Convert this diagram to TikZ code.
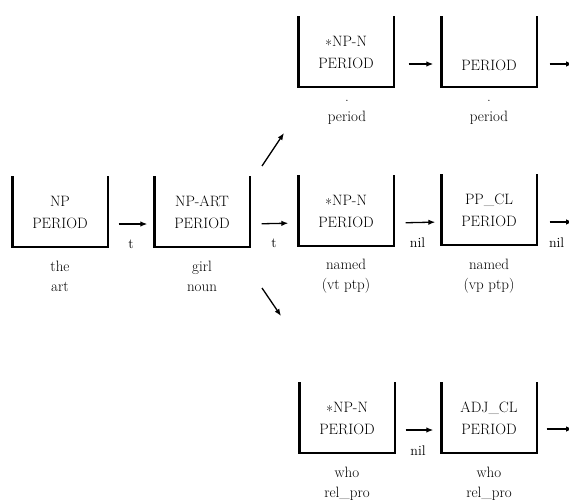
\documentclass[tikz,border=0pt]{standalone}
\usepackage{fontspec}
\usetikzlibrary{arrows.meta}
\begin{document}
\begin{tikzpicture}[x=1pt,y=-1pt,
  cat/.style={minimum width=95pt,minimum height=70pt,inner sep=0pt,align=center,
    font=\fontsize{15}{22}\selectfont\addfontfeature{FakeBold=0.8}},
  ubox/.style={line width=2.4pt,line join=miter,line cap=rect},
  wrd/.style={align=center,inner sep=0pt,
    font=\fontsize{15}{20}\selectfont\addfontfeature{LetterSpace=12,FakeBold=1.5}},
  arr/.style={line width=1.3pt,-{Latex[length=7pt,width=5.5pt]}},
  lab/.style={inner sep=0pt,
    font=\fontsize{14}{16}\selectfont\addfontfeature{LetterSpace=8,FakeBold=1.5}}]
\useasboundingbox (0,0) rectangle (569,503);

% category boxes (open at the top)
\node[cat] (b1) at (60,212)  {NP\\PERIOD};
\node[cat] (b2) at (202,212) {NP-ART\\PERIOD};
\node[cat] (b3) at (346,211) {\textasteriskcentered NP-N\\PERIOD};
\node[cat] (b4) at (489,210) {PP\_CL\\PERIOD};
\node[cat] (b5) at (346,52)  {\textasteriskcentered NP-N\\PERIOD};
\node[cat] (b6) at (489,52)  {\strut\\PERIOD};
\node[cat] (b7) at (347,418) {\textasteriskcentered NP-N\\PERIOD};
\node[cat] (b8) at (489,418) {ADJ\_CL\\PERIOD};
\foreach \b in {b1,b2,b3,b4,b5,b6,b7,b8}
  \draw[ubox] (\b.north west) -- (\b.south west) -- (\b.south east) -- (\b.north east);

% words under the boxes
\node[wrd] (w1) at (60,276)  {the\\art};
\node[wrd] (w2) at (202,276) {girl\\noun};
\node[wrd] (w3) at (346,276) {named\\(vt ptp)};
\node[wrd] (w4) at (489,276) {named\\(vp ptp)};
\node[wrd] (w5) at (347,112) {.\\period};
\node[wrd] (w6) at (489,112) {.\\period};
\node[wrd] (w7) at (347,484) {who\\rel\_pro};
\node[wrd] (w8) at (489,484) {who\\rel\_pro};

% transitions
\draw[arr,shorten <=11pt,shorten >=7pt] ([yshift=-12pt]b1.east) -- ([yshift=-12pt]b2.west)
  node[lab,midway,below=15pt] {t};
\draw[arr,shorten <=12pt,shorten >=10pt] ([yshift=-12pt]b2.east) -- ([yshift=-12pt]b3.west)
  node[lab,midway,below=15pt] {t};
\draw[arr,shorten <=12pt,shorten >=6pt] ([yshift=-12pt]b3.east) -- ([yshift=-12pt]b4.west)
  node[lab,midway,below=15pt] {nil};
\draw[arr,shorten <=15pt,shorten >=8pt] ([yshift=-12pt]b5.east) -- ([yshift=-12pt]b6.west);
\draw[arr,shorten <=11pt,shorten >=8pt] ([yshift=-12pt]b7.east) -- ([yshift=-12pt]b8.west)
  node[lab,midway,below=15pt] {nil};

\coordinate (o4) at (573,222);
\coordinate (o6) at (573,64);
\coordinate (o8) at (573,429);
\draw[arr,shorten <=13pt] ([yshift=-12pt]b4.east) -- (o4)
  node[lab,pos=0.55,below=15pt] {nil};
\draw[arr,shorten <=13pt] ([yshift=-12pt]b6.east) -- (o6);
\draw[arr,shorten <=10pt] ([yshift=-11pt]b8.east) -- (o8);

% branches up and down
\coordinate (u0) at (262,166);
\coordinate (u1) at (284,133);
\coordinate (d0) at (262,288);
\coordinate (d1) at (281,316);
\draw[arr] (u0) -- (u1);
\draw[arr] (d0) -- (d1);
\end{tikzpicture}
\end{document}
